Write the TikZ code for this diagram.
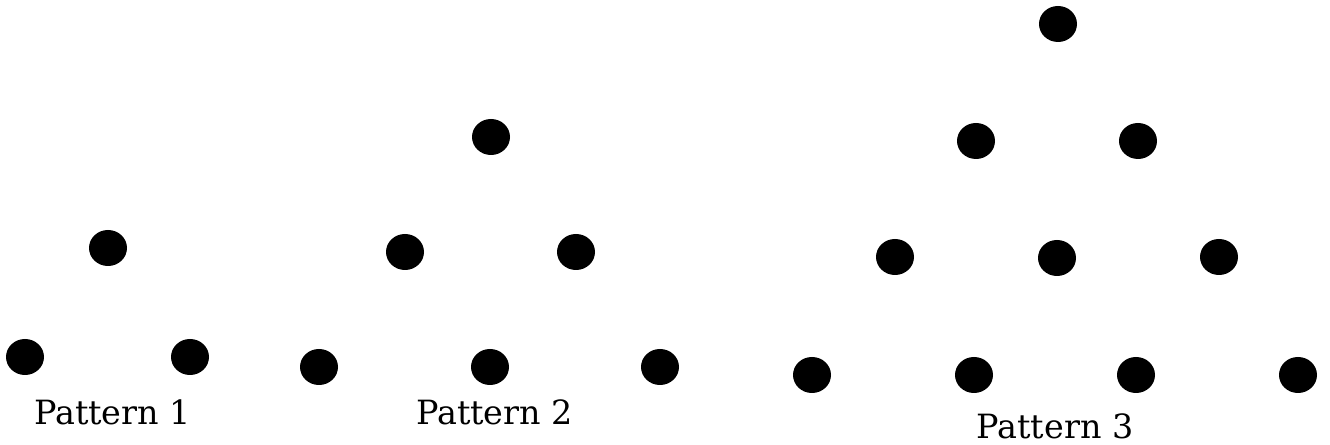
\documentclass[tikz,border=0pt]{standalone}
\usepackage{fontspec}
\usetikzlibrary{shapes.geometric}
\newfontfamily\patfont{DejaVu Serif}
\tikzset{
	dot/.style={ellipse, fill=black, inner sep=0pt, minimum width=0.76cm, minimum height=0.72cm},
	patlabel/.style={anchor=base, font=\patfont\fontsize{19}{22}\selectfont}
}
\begin{document}
\begin{tikzpicture}
	\useasboundingbox (0,0) rectangle (26.6,8.9);
		\begin{scope}
			\node[dot] (a1) at (2.16,3.94) {};
			\node[dot] (a2) at (0.50,1.76) {};
			\node[dot] (a3) at (3.80,1.76) {};
			\node[patlabel] (lab1) at (2.25,0.40) {Pattern 1};
		\end{scope}

		\begin{scope}
			\node[dot] (b1) at (9.82,6.16) {};
			\node[dot] (b2) at (8.10,3.86) {};
			\node[dot] (b3) at (11.52,3.86) {};
			\node[dot] (b4) at (6.38,1.56) {};
			\node[dot] (b5) at (9.80,1.56) {};
			\node[dot] (b6) at (13.20,1.56) {};
			\node[patlabel] (lab2) at (9.89,0.40) {Pattern 2};
		\end{scope}

		\begin{scope}
			\node[dot] (c1) at (21.16,8.42) {};
			\node[dot] (c2) at (19.52,6.08) {};
			\node[dot] (c3) at (22.76,6.08) {};
			\node[dot] (c4) at (17.90,3.76) {};
			\node[dot] (c5) at (21.14,3.74) {};
			\node[dot] (c6) at (24.38,3.76) {};
			\node[dot] (c7) at (16.24,1.40) {};
			\node[dot] (c8) at (19.48,1.40) {};
			\node[dot] (c9) at (22.72,1.40) {};
			\node[dot] (c10) at (25.96,1.40) {};
			\node[patlabel] (lab3) at (21.10,0.13) {Pattern 3};
		\end{scope}
	\end{tikzpicture}
\end{document}
